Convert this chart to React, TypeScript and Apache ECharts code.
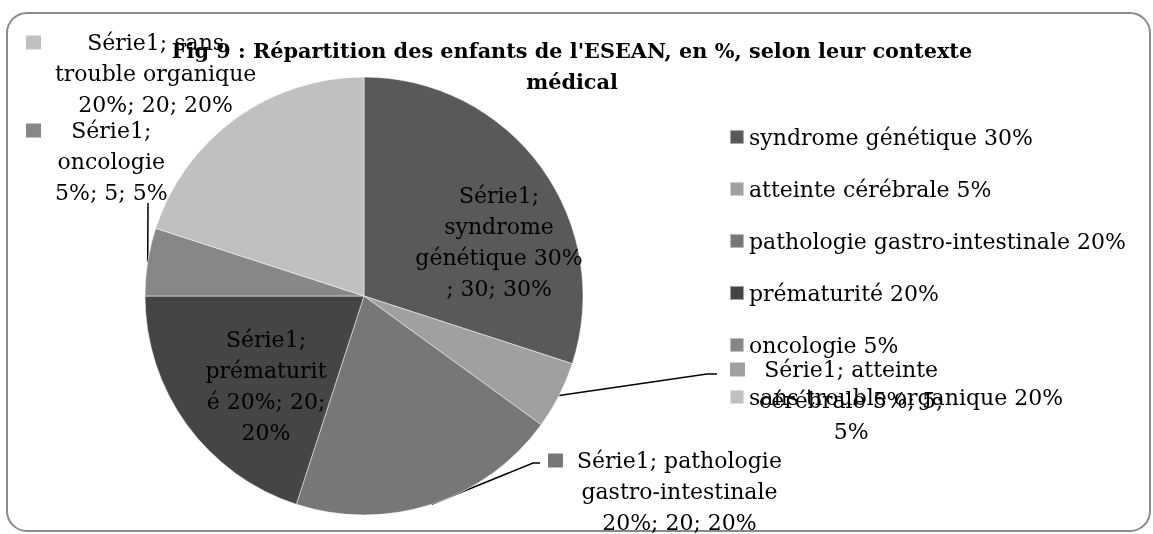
import React, { useEffect, useRef } from "react";
import * as echarts from "echarts";

const seriesName = "Série1";
const categories = [
  "syndrome génétique 30%",
  "atteinte cérébrale 5%",
  "pathologie gastro-intestinale 20%",
  "prématurité 20%",
  "oncologie 5%",
  "sans trouble organique 20%",
];
const values = [30, 5, 20, 20, 5, 20];
const sliceColors = ["#595959", "#a0a0a0", "#777777", "#454545", "#878787", "#c0c0c0"];
const labelLines = [
  ["Série1;", "syndrome", "génétique 30%", "; 30; 30%"],
  ["Série1; atteinte", "cérébrale 5%; 5;", "5%"],
  ["Série1; pathologie", "gastro-intestinale", "20%; 20; 20%"],
  ["Série1;", "prématurit", "é 20%; 20;", "20%"],
  ["Série1;", "oncologie", "5%; 5; 5%"],
  ["Série1; sans", "trouble organique", "20%; 20; 20%"],
];
const insideLabel = [true, false, false, true, false, false];
const showLeader = [false, true, true, false, true, false];
const titleText = "Fig 9 : Répartition des enfants de l'ESEAN, en %, selon leur contexte\nmédical";

// layout (not data)
const CX = 364;
const CY = 296;
const R = 219;
const FONT = "'DejaVu Serif', serif";
const labelAnchor = [
  { x: 499, y: 242, align: "center", va: "middle" },
  { x: 730, y: 354, align: "left", va: "top" },
  { x: 548, y: 445, align: "left", va: "top" },
  { x: 266, y: 386, align: "center", va: "middle" },
  { x: 26, y: 115, align: "left", va: "top" },
  { x: 26, y: 27, align: "left", va: "top" },
];
const leaderElbow: number[][][] = [
  [],
  [[707, 374], [717, 374]],
  [[533, 463], [540, 463]],
  [],
  [[148, 203], [148, 203]],
  [],
];

function edgePoint(i: number): number[] {
  const total = values.reduce((a, b) => a + b, 0);
  let before = 0;
  for (let k = 0; k < i; k++) before += values[k];
  const mid = ((before + values[i] / 2) / total) * Math.PI * 2;
  return [CX + R * Math.sin(mid), CY - R * Math.cos(mid)];
}

export default function App() {
  const ref = useRef<HTMLDivElement>(null);
  useEffect(() => {
    if (!ref.current) return;
    const chart = echarts.init(ref.current, undefined, { renderer: "svg" });
    const data = categories.map((name, i) => ({
      name,
      value: values[i],
      itemStyle: { color: sliceColors[i] },
      label: { position: insideLabel[i] ? "inside" : "outside" },
      labelLine: { show: showLeader[i] },
    }));
    chart.setOption({
      animation: false,
      textStyle: { fontFamily: FONT },
      title: {
        text: titleText,
        left: 572,
        top: 35,
        padding: 0,
        textAlign: "center",
        textStyle: {
          fontFamily: FONT,
          fontWeight: "bold",
          fontSize: 20.8,
          lineHeight: 31,
          color: "#000",
        },
      },
      legend: {
        orient: "vertical",
        left: 729,
        top: 124,
        padding: 0,
        icon: "rect",
        itemWidth: 14,
        itemHeight: 14,
        itemGap: 26,
        data: categories,
        textStyle: { fontFamily: FONT, fontSize: 22, lineHeight: 26, color: "#000" },
      },
      graphic: [
        {
          type: "rect",
          shape: { x: 7, y: 13, width: 1143, height: 518, r: 20 },
          style: { fill: "none", stroke: "#8a8a8a", lineWidth: 2 },
          silent: true,
          z: -10,
        },
      ],
      series: [
        {
          type: "pie",
          name: seriesName,
          center: [CX, CY],
          radius: R,
          startAngle: 90,
          clockwise: true,
          avoidLabelOverlap: false,
          itemStyle: { borderColor: "rgba(255,255,255,0.5)", borderWidth: 1 },
          label: {
            show: true,
            color: "#000",
            fontFamily: FONT,
            fontSize: 22,
            lineHeight: 31,
            formatter: (p: any) => {
              const i = p.dataIndex;
              const lines = labelLines[i];
              if (insideLabel[i]) {
                return lines.map((l) => `{t|${l}}`).join("\n");
              }
              return lines
                .map((l, k) => (k === 0 ? `{sq${i}|}{gap|}{t|${l}}` : `{pad|}{t|${l}}`))
                .join("\n");
            },
            rich: {
              t: {
                align: "center",
                fontFamily: FONT,
                fontSize: 22,
                lineHeight: 31,
                color: "#000",
              },
              gap: { align: "left", width: 14, height: 14 },
              pad: { align: "left", width: 29, height: 14 },
              ...Object.fromEntries(
                sliceColors.map((c, i) => [
                  `sq${i}`,
                  { align: "left", width: 15, height: 14, backgroundColor: c },
                ])
              ),
            },
          },
          labelLine: {
            show: true,
            lineStyle: { color: "#000", width: 1.5 },
          },
          labelLayout: (params: any) => {
            const i = params.dataIndex;
            const a = labelAnchor[i];
            const out: any = { x: a.x, y: a.y, align: a.align, verticalAlign: a.va };
            if (showLeader[i]) {
              out.labelLinePoints = [edgePoint(i), ...leaderElbow[i]];
            }
            return out;
          },
          data,
        },
      ],
    });
    return () => chart.dispose();
  }, []);
  return (
    <div
      ref={ref}
      style={{ position: "fixed", left: 0, top: 0, width: 1153, height: 534 }}
    />
  );
}
